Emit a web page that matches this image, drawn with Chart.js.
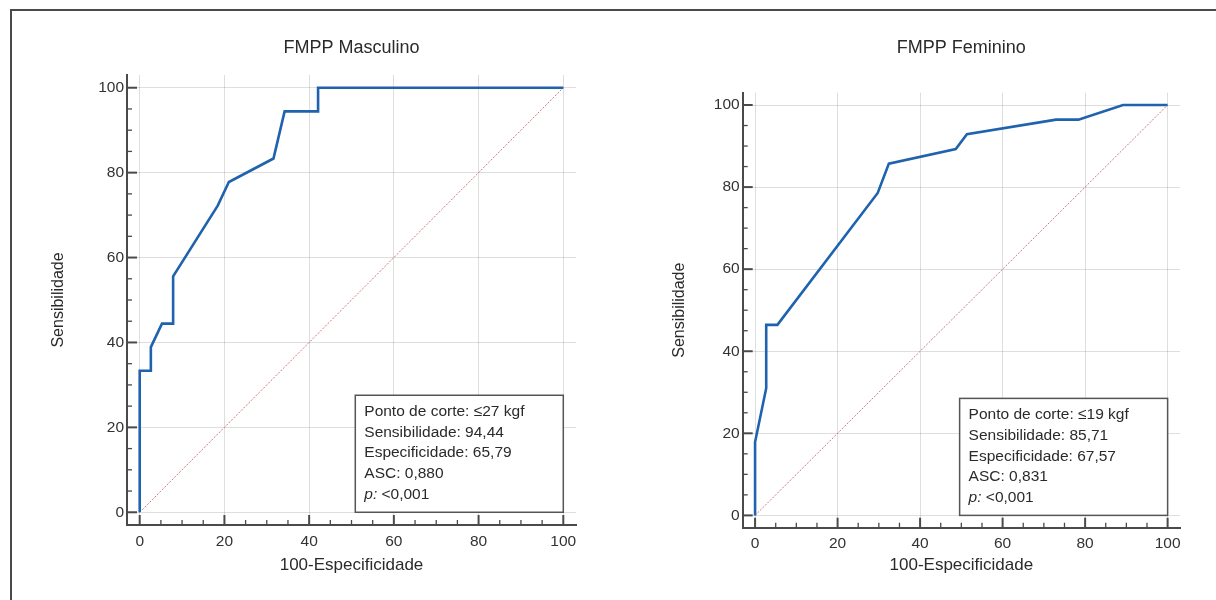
<!DOCTYPE html>
<html>
<head>
<meta charset="utf-8">
<script src="https://cdn.jsdelivr.net/npm/chart.js@4.4.1/dist/chart.umd.min.js"></script>
<style>
    body { margin: 0; background: #fff; width: 1216px; height: 600px; overflow: hidden; position: relative; }
    #frame { position: absolute; left: 10px; top: 9px; width: 1210px; height: 600px; border-top: 2px solid #4a4a4a; border-left: 2px solid #4a4a4a; }
    #maleChart { position: absolute; left: 12px; top: 12px; }
    #femaleChart { position: absolute; left: 612px; top: 12px; }
</style>
</head>
<body>
<div id="frame"></div>
<canvas id="maleChart" width="590" height="588"></canvas>
<canvas id="femaleChart" width="604" height="588"></canvas>
<script>
// ========== DATA ==========
// FMPP Masculino ROC curve (100-Especificidade, Sensibilidade)
const maleX = [0, 0, 2.63, 2.63, 5.26, 7.89, 7.89, 18.42, 21.05, 31.58, 34.21, 42.11, 42.11, 100];
const maleY = [0, 33.33, 33.33, 38.89, 44.44, 44.44, 55.56, 72.22, 77.78, 83.33, 94.44, 94.44, 100, 100];

// FMPP Feminino ROC curve
const femaleX = [0, 0, 2.7, 2.7, 5.41, 29.73, 32.43, 48.65, 51.35, 72.97, 78.38, 89.19, 100];
const femaleY = [0, 17.86, 31, 46.43, 46.43, 78.57, 85.71, 89.29, 92.86, 96.43, 96.43, 100, 100];

// reference diagonal
const diagX = [0, 100];
const diagY = [0, 100];

// axis ticks
const majorTicks = [0, 20, 40, 60, 80, 100];
const minorTicks = [0, 5, 10, 15, 20, 25, 30, 35, 40, 45, 50, 55, 60, 65, 70, 75, 80, 85, 90, 95, 100];

// stat boxes
const maleStats = ['Ponto de corte: \u226427 kgf', 'Sensibilidade: 94,44', 'Especificidade: 65,79', 'ASC: 0,880'];
const femaleStats = ['Ponto de corte: \u226419 kgf', 'Sensibilidade: 85,71', 'Especificidade: 67,57', 'ASC: 0,831'];
const pValue = '<0,001';
// ===================================

const FONT = 'Arial, "Liberation Sans", sans-serif';
const AXIS_COLOR = '#4a4a4a';
const TEXT_COLOR = '#2a2a2a';

// ticks pointing into the plot, majors longer than minors
const innerTicks = {
    id: 'innerTicks',
    afterDatasetsDraw(chart) {
        const { ctx, chartArea, scales } = chart;
        ctx.save();
        ctx.strokeStyle = AXIS_COLOR;
        minorTicks.forEach(v => {
            const major = majorTicks.includes(v);
            const len = major ? 10 : 5;
            ctx.lineWidth = major ? 2 : 1.3;
            const px = scales.x.getPixelForValue(v);
            ctx.beginPath();
            ctx.moveTo(px, chartArea.bottom);
            ctx.lineTo(px, chartArea.bottom - len);
            ctx.stroke();
            const py = scales.y.getPixelForValue(v);
            ctx.beginPath();
            ctx.moveTo(chartArea.left, py);
            ctx.lineTo(chartArea.left + len, py);
            ctx.stroke();
        });
        ctx.restore();
    }
};

// white box with the cut-off stats, anchored at bottom right (x=100, y=0)
const statBox = {
    id: 'statBox',
    afterDatasetsDraw(chart, args, opts) {
        const { ctx, scales } = chart;
        const w = 208, h = 117;
        const right = scales.x.getPixelForValue(100);
        const bottom = scales.y.getPixelForValue(0);
        const left = right - w, top = bottom - h;
        ctx.save();
        ctx.fillStyle = '#fff';
        ctx.fillRect(left, top, w, h);
        ctx.strokeStyle = '#555';
        ctx.lineWidth = 1.5;
        ctx.strokeRect(left, top, w, h);
        ctx.fillStyle = TEXT_COLOR;
        ctx.textBaseline = 'middle';
        ctx.font = '15.5px ' + FONT;
        const lineGap = 20.7;
        opts.lines.forEach((line, i) => {
            ctx.fillText(line, left + 9, top + 16.5 + i * lineGap);
        });
        const py = top + 16.5 + opts.lines.length * lineGap;
        ctx.font = 'italic 15.5px ' + FONT;
        ctx.fillText('p:', left + 9, py);
        const pw = ctx.measureText('p: ').width;
        ctx.font = '15.5px ' + FONT;
        ctx.fillText(pValue, left + 9 + pw, py);
        ctx.restore();
    }
};

function toPoints(xs, ys) {
    return xs.map((x, i) => ({ x: x, y: ys[i] }));
}

function createRocChart(canvasId, title, xs, ys, stats, layout) {
    const ctx = document.getElementById(canvasId).getContext('2d');
    return new Chart(ctx, {
        type: 'line',
        data: {
            datasets: [{
                data: toPoints(xs, ys),
                borderColor: '#1f62ad',
                borderWidth: 2.6,
                pointRadius: 0,
                tension: 0
            }, {
                data: toPoints(diagX, diagY),
                borderColor: 'rgba(200, 105, 105, 0.9)',
                borderWidth: 1,
                borderDash: [2, 1.5],
                pointRadius: 0,
                tension: 0
            }]
        },
        options: {
            responsive: false,
            animation: false,
            devicePixelRatio: 1,
            layout: { padding: { left: 0, right: layout.right, top: 0, bottom: 0 } },
            plugins: {
                legend: { display: false },
                tooltip: { enabled: false },
                title: {
                    display: true,
                    text: title,
                    fullSize: false,
                    color: TEXT_COLOR,
                    font: { family: FONT, size: 18, weight: 'normal' },
                    padding: { top: 25.2, bottom: layout.titleBottom }
                },
                statBox: { lines: stats }
            },
            scales: {
                x: {
                    type: 'linear',
                    min: -3,
                    max: 103,
                    afterBuildTicks: scale => { scale.ticks = majorTicks.map(v => ({ value: v })); },
                    afterFit: scale => { scale.height = layout.xHeight; },
                    grid: { color: 'rgba(0, 0, 0, 0.13)', drawTicks: false },
                    border: { display: true, color: AXIS_COLOR, width: 2 },
                    ticks: { color: '#333', padding: 7, maxRotation: 0, font: { family: FONT, size: 15.5 } },
                    title: {
                        display: true,
                        text: '100-Especificidade',
                        color: TEXT_COLOR,
                        font: { family: FONT, size: 17 },
                        padding: { top: 0, bottom: 24.8 }
                    }
                },
                y: {
                    type: 'linear',
                    min: -3,
                    max: 103,
                    afterBuildTicks: scale => { scale.ticks = majorTicks.map(v => ({ value: v })); },
                    afterFit: scale => { scale.width = layout.yWidth; },
                    grid: { color: 'rgba(0, 0, 0, 0.13)', drawTicks: false },
                    border: { display: true, color: AXIS_COLOR, width: 2 },
                    ticks: { color: '#333', padding: 3, font: { family: FONT, size: 15.5 } },
                    title: {
                        display: true,
                        text: 'Sensibilidade',
                        color: TEXT_COLOR,
                        font: { family: FONT, size: 16 },
                        padding: { top: layout.yTitleTop, bottom: 0 }
                    }
                }
            }
        },
        plugins: [innerTicks, statBox]
    });
}

createRocChart('maleChart', 'FMPP Masculino', maleX, maleY, maleStats,
    { right: 26, titleBottom: 16.2, xHeight: 75, yWidth: 115, yTitleTop: 37 });
createRocChart('femaleChart', 'FMPP Feminino', femaleX, femaleY, femaleStats,
    { right: 36, titleBottom: 33.9, xHeight: 72.3, yWidth: 130.7, yTitleTop: 58 });
</script>
</body>
</html>
